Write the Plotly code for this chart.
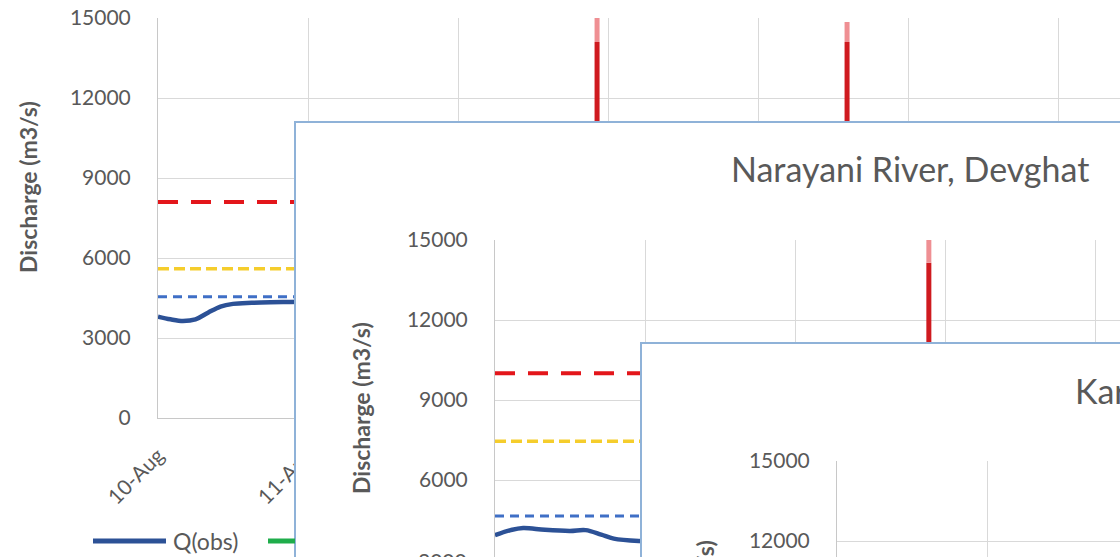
import pandas as pd
import plotly.graph_objects as go

W, H = 1120, 557
FONT = "Lato"
GREY = "#595959"
GRID = "#d9d9d9"
CARD_EDGE = "#8fb2d8"

# ---- data -------------------------------------------------------------
start_day = "2017-08-10"

# upstream gauge (rear chart)
gauge1_obs_time = ["2017-08-10 00:00", "2017-08-10 02:00", "2017-08-10 04:00",
                   "2017-08-10 06:00", "2017-08-10 08:00", "2017-08-10 10:00",
                   "2017-08-10 12:00", "2017-08-10 15:00", "2017-08-10 18:00",
                   "2017-08-10 21:00", "2017-08-11 00:00"]
gauge1_obs_q = [3800, 3700, 3640, 3700, 3950, 4180, 4280, 4320, 4340, 4350, 4360]
gauge1_danger = 8100
gauge1_warning = 5600
gauge1_alert = 4550
gauge1_spike_time = ["2017-08-12 22:15", "2017-08-14 14:15"]
gauge1_spike_core = [14100, 14100]
gauge1_spike_top = [15000, 14850]

# Narayani River, Devghat
devghat_obs_time = ["2017-08-10 00:00", "2017-08-10 02:30", "2017-08-10 04:30",
                    "2017-08-10 08:00", "2017-08-10 12:00", "2017-08-10 14:30",
                    "2017-08-10 17:00", "2017-08-10 19:00", "2017-08-10 23:00",
                    "2017-08-11 02:00"]
devghat_obs_q = [3930, 4120, 4200, 4130, 4090, 4120, 3950, 3800, 3710, 3700]
devghat_danger = 10000
devghat_warning = 7450
devghat_alert = 4650
devghat_spike_time = ["2017-08-12 21:25"]
devghat_spike_core = [14150]
devghat_spike_top = [15000]

y_ticks = [0, 3000, 6000, 9000, 12000, 15000]
legend_labels = ["Q(obs)"]
titles = ["Narayani River, Devghat", "Karnali River, Chisapani"]
y_title = "Discharge (m3/s)"

# ---- helpers ----------------------------------------------------------
def fx(px):
    return px / W


def fy(py):
    return 1 - py / H


PX_PER_DAY = 150.0
PX_PER_UNIT = 80.0 / 3000.0
TICK_SIZE = 21

fig = go.Figure()
layout = dict(
    width=W, height=H, margin=dict(l=0, r=0, t=0, b=0, autoexpand=False),
    paper_bgcolor="white", plot_bgcolor="white", showlegend=False,
    font=dict(family=FONT, color=GREY),
)


def data_axes(n, left, top, zero, xlabels=False):
    """Axis pair for one chart: plot starts at `left`, 15000 at `top`, 0 at `zero`."""
    bottom = min(zero, H)
    days = (W - left) / PX_PER_DAY
    t0 = pd.Timestamp(start_day)
    t1 = t0 + pd.Timedelta(days=days)
    ylo = (zero - bottom) / PX_PER_UNIT
    sfx = "" if n == 1 else str(n)
    layout["xaxis" + sfx] = dict(
        domain=[fx(left), 1], anchor="y" + sfx, type="date",
        range=[t0, t1], dtick=86400000, tick0=start_day,
        tickformat="%d-%b", tickangle=-45, showticklabels=xlabels,
        ticklabelstandoff=16, tickfont=dict(size=TICK_SIZE, color=GREY, family=FONT),
        showgrid=True, gridcolor=GRID, gridwidth=1, zeroline=False,
        showline=True, linecolor="#c8c8c8", linewidth=1, ticks="",
        automargin=False,
    )
    layout["yaxis" + sfx] = dict(
        domain=[fy(bottom), fy(top)], anchor="x" + sfx,
        range=[ylo, 15000], tickvals=y_ticks, tickformat="d",
        ticklabelstandoff=22, tickfont=dict(size=TICK_SIZE, color=GREY, family=FONT),
        showgrid=True, gridcolor=GRID, gridwidth=1, zeroline=False,
        showline=True, linecolor="#c8c8c8", linewidth=1, ticks="",
        mirror=True, automargin=False,
    )
    return "x" + sfx, "y" + sfx


def card_axes(n, left, top):
    """Blank white panel with a light blue frame on its top and left edges."""
    sfx = str(n)
    common = dict(showgrid=False, zeroline=False, showticklabels=False,
                  ticks="", showline=True, linecolor=CARD_EDGE, linewidth=2,
                  range=[0, 1], fixedrange=True, automargin=False)
    layout["xaxis" + sfx] = dict(domain=[fx(left), 1], anchor="y" + sfx,
                                 side="top", **common)
    layout["yaxis" + sfx] = dict(domain=[0, fy(top)], anchor="x" + sfx,
                                 side="left", **common)
    fig.add_trace(go.Scatter(x=[None], y=[None], xaxis="x" + sfx,
                             yaxis="y" + sfx, hoverinfo="skip"))


def add_series(xa, ya, obs_t, obs_q, danger, warning, alert,
               spike_t, spike_core, spike_top):
    span = [start_day, "2017-08-18"]
    fig.add_trace(go.Scatter(x=span, y=[danger] * 2, mode="lines",
                             line=dict(color="#e3161b", width=4, dash="20px,13px"),
                             xaxis=xa, yaxis=ya))
    fig.add_trace(go.Scatter(x=span, y=[warning] * 2, mode="lines",
                             line=dict(color="#f5cd2c", width=3.5, dash="11px,5px"),
                             xaxis=xa, yaxis=ya))
    fig.add_trace(go.Scatter(x=span, y=[alert] * 2, mode="lines",
                             line=dict(color="#3f6fc6", width=3, dash="9px,6px"),
                             xaxis=xa, yaxis=ya))
    fig.add_trace(go.Scatter(x=obs_t, y=obs_q, mode="lines",
                             line=dict(color="#2c5196", width=4.5, shape="spline"),
                             xaxis=xa, yaxis=ya))
    for t, core, top in zip(spike_t, spike_core, spike_top):
        fig.add_trace(go.Scatter(x=[t, t], y=[0, core], mode="lines",
                                 line=dict(color="#cf1a1f", width=5),
                                 xaxis=xa, yaxis=ya))
        fig.add_trace(go.Scatter(x=[t, t], y=[core, top], mode="lines",
                                 line=dict(color="#ef8f93", width=5),
                                 xaxis=xa, yaxis=ya))


# rear chart
xa, ya = data_axes(1, 158, 18, 418, xlabels=True)
add_series(xa, ya, gauge1_obs_time, gauge1_obs_q, gauge1_danger, gauge1_warning,
           gauge1_alert, gauge1_spike_time, gauge1_spike_core, gauge1_spike_top)

# Devghat card and chart
card_axes(2, 296, 123)
xa, ya = data_axes(3, 495, 240, 640)
add_series(xa, ya, devghat_obs_time, devghat_obs_q, devghat_danger,
           devghat_warning, devghat_alert, devghat_spike_time,
           devghat_spike_core, devghat_spike_top)

# Karnali card and chart
card_axes(4, 642, 344)
xa, ya = data_axes(5, 837, 461, 861)
fig.add_trace(go.Scatter(x=[None], y=[None], xaxis=xa, yaxis=ya))

YT = dict(size=23, color=GREY, family=FONT, weight="bold")
annotations = [
    dict(text=y_title, x=fx(28), y=fy(187), textangle=-90, font=YT),
    dict(text=y_title, x=fx(361), y=fy(408), textangle=-90, font=YT),
    dict(text=y_title, x=fx(705), y=fy(626), textangle=-90, font=YT),
    dict(text=titles[0], x=fx(910), y=fy(168),
         font=dict(size=34, color=GREY, family=FONT)),
    dict(text=titles[1], x=fx(1073), y=fy(390), xanchor="left",
         font=dict(size=34, color=GREY, family=FONT)),
    dict(text=legend_labels[0], x=fx(171), y=fy(541), xanchor="left",
         font=dict(size=23, color=GREY, family=FONT)),
    dict(text="3000", x=fx(469), y=fy(560), xanchor="right",
         font=dict(size=TICK_SIZE, color=GREY, family=FONT)),
]
for a in annotations:
    a.update(xref="paper", yref="paper", showarrow=False)
    a.setdefault("xanchor", "center")
    a.setdefault("yanchor", "middle")
layout["annotations"] = annotations

layout["shapes"] = [
    dict(type="line", xref="paper", yref="paper", x0=fx(93), x1=fx(166),
         y0=fy(541), y1=fy(541), line=dict(color="#2c5196", width=5)),
    dict(type="line", xref="paper", yref="paper", x0=fx(268), x1=fx(295),
         y0=fy(541), y1=fy(541), line=dict(color="#1fad4b", width=5)),
]

fig.update_layout(**layout)
fig.write_html("out.html")
